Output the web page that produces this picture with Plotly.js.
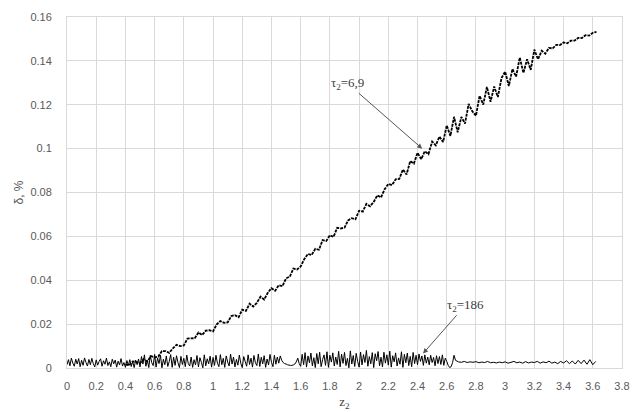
<!DOCTYPE html>
<html>
<head>
<meta charset="utf-8">
<script src="https://cdn.plot.ly/plotly-3.0.1.min.js"></script>
<style>html,body{margin:0;padding:0;background:#fff;}#chart{width:632px;height:412px;}</style>
</head>
<body>
<div id="chart"></div>
<script>
// Curve tau2 = 6,9 (rising curve)
const xMain = [0.400,0.425,0.450,0.475,0.500,0.525,0.550,0.575,0.600,0.625,0.650,0.675,0.700,0.725,0.750,0.775,0.800,0.825,0.850,0.875,0.900,0.925,0.950,0.975,
1.000,1.025,1.050,1.075,1.100,1.125,1.150,1.175,1.200,1.225,1.250,1.275,1.300,1.325,1.350,1.375,1.400,1.425,1.450,1.475,1.500,1.525,1.550,1.575,1.600,1.625,1.650,1.675,1.700,1.725,1.750,1.775,1.800,1.825,1.850,1.875,1.900,1.925,1.950,1.975,
2.000,2.025,2.050,2.075,2.100,2.125,2.150,2.175,2.200,2.225,2.250,2.275,2.300,2.325,2.350,2.375,2.400,2.425,2.450,2.475,2.500,2.525,2.550,2.575,2.600,2.625,2.650,2.675,2.700,2.725,2.750,2.775,2.800,2.825,2.850,2.875,2.900,2.925,2.950,2.975,
3.000,3.025,3.050,3.075,3.100,3.125,3.150,3.175,3.200,3.225,3.250,3.275,3.300,3.325,3.350,3.375,3.400,3.425,3.450,3.475,3.500,3.525,3.550,3.575,3.600,3.625];
const yMain = [0.0016,0.0012,0.0030,0.0027,0.0022,0.0040,0.0030,0.0054,0.0048,0.0052,0.0077,0.0077,0.0069,0.0090,0.0106,0.0100,0.0103,0.0134,0.0135,0.0136,0.0162,0.0150,0.0170,0.0172,
0.0167,0.0199,0.0214,0.0206,0.0208,0.0237,0.0241,0.0231,0.0266,0.0260,0.0293,0.0280,0.0297,0.0325,0.0312,0.0343,0.0364,0.0352,0.0377,0.0373,0.0409,0.0416,0.0453,0.0449,0.0463,0.0497,0.0520,0.0515,0.0543,0.0539,0.0583,0.0579,0.0605,0.0598,0.0639,0.0636,0.0640,0.0673,0.0683,0.0678,
0.0717,0.0713,0.0748,0.0737,0.0757,0.0787,0.0778,0.0815,0.0839,0.0834,0.0860,0.0862,0.0905,0.0882,0.0943,0.0932,0.0981,0.0952,0.0988,0.0975,0.1032,0.1015,0.1055,0.1030,0.1106,0.1058,0.1145,0.1075,0.1144,0.1114,0.1204,0.1170,0.1150,0.1241,0.1201,0.1281,0.1214,0.1283,0.1235,0.1322,
0.1351,0.1285,0.1363,0.1328,0.1415,0.1345,0.1407,0.1359,0.1451,0.1407,0.1446,0.1433,0.1459,0.1457,0.1473,0.1472,0.1484,0.1480,0.1492,0.1492,0.1505,0.1504,0.1517,0.1515,0.1528,0.1532];

// Curve tau2 = 186 (near zero)
const xLow = [
0.00,0.01,0.02,0.03,0.04,0.05,0.06,0.07,0.08,0.09,
0.10,0.11,0.12,0.13,0.14,0.15,0.16,0.17,0.18,0.19,
0.20,0.21,0.22,0.23,0.24,0.25,0.26,0.27,0.28,0.29,
0.30,0.31,0.32,0.33,0.34,0.35,0.36,0.37,0.38,0.39,
0.40,0.41,0.42,0.43,0.44,0.45,0.46,0.47,0.48,0.49,
0.50,0.51,0.52,0.53,0.54,0.55,0.56,0.57,0.58,0.59,
0.60,0.61,0.62,0.63,0.64,0.65,0.66,0.67,0.68,0.69,
0.70,0.71,0.72,0.73,0.74,0.75,0.76,0.77,0.78,0.79,
0.80,0.81,0.82,0.83,0.84,0.85,0.86,0.87,0.88,0.89,
0.90,0.91,0.92,0.93,0.94,0.95,0.96,0.97,0.98,0.99,
1.00,1.01,1.02,1.03,1.04,1.05,1.06,1.07,1.08,1.09,
1.10,1.11,1.12,1.13,1.14,1.15,1.16,1.17,1.18,1.19,
1.20,1.21,1.22,1.23,1.24,1.25,1.26,1.27,1.28,1.29,
1.30,1.31,1.32,1.33,1.34,1.35,1.36,1.37,1.38,1.39,
1.40,1.41,1.42,1.43,1.44,1.45,1.46,1.47,1.48,1.49,
1.50,1.51,1.52,1.53,1.54,1.55,1.56,1.57,1.58,1.59,
1.60,1.61,1.62,1.63,1.64,1.65,1.66,1.67,1.68,1.69,
1.70,1.71,1.72,1.73,1.74,1.75,1.76,1.77,1.78,1.79,
1.80,1.81,1.82,1.83,1.84,1.85,1.86,1.87,1.88,1.89,
1.90,1.91,1.92,1.93,1.94,1.95,1.96,1.97,1.98,1.99,
2.00,2.01,2.02,2.03,2.04,2.05,2.06,2.07,2.08,2.09,
2.10,2.11,2.12,2.13,2.14,2.15,2.16,2.17,2.18,2.19,
2.20,2.21,2.22,2.23,2.24,2.25,2.26,2.27,2.28,2.29,
2.30,2.31,2.32,2.33,2.34,2.35,2.36,2.37,2.38,2.39,
2.40,2.41,2.42,2.43,2.44,2.45,2.46,2.47,2.48,2.49,
2.50,2.51,2.52,2.53,2.54,2.55,2.56,2.57,2.58,2.59,
2.60,2.61,2.62,2.63,2.64,2.65,2.66,
2.68,2.70,2.72,2.74,2.76,2.78,2.80,2.82,2.84,2.86,2.88,2.90,2.92,2.94,2.96,2.98,
3.00,3.02,3.04,3.06,3.08,3.10,3.12,3.14,3.16,3.18,3.20,3.22,3.24,3.26,3.28,3.30,
3.32,3.34,3.36,3.38,3.40,3.42,3.44,3.46,3.48,3.50,3.52,3.54,3.56,3.58,3.60,3.62];
const yLow = [
0.0015,0.0038,0.0010,0.0045,0.0022,0.0008,0.0040,0.0018,0.0043,0.0006,
0.0035,0.0012,0.0046,0.0025,0.0009,0.0039,0.0015,0.0044,0.0020,0.0005,
0.0037,0.0013,0.0030,0.0042,0.0008,0.0033,0.0017,0.0045,0.0011,0.0028,
0.0006,0.0040,0.0019,0.0036,0.0004,0.0031,0.0014,0.0043,0.0009,0.0025,
0.0003,0.0034,0.0012,0.0038,0.0007,0.0029,0.0002,0.0036,0.0015,0.0041,
0.0005,0.0052,0.0018,0.0060,0.0008,0.0035,0.0002,0.0057,0.0025,0.0011,
0.0062,0.0004,0.0046,0.0020,0.0058,0.0001,0.0040,0.0015,0.0055,0.0007,
0.0030,0.0061,0.0003,0.0049,0.0012,0.0056,0.0024,0.0002,0.0053,0.0016,
0.0044,0.0006,0.0059,0.0021,0.0009,0.0050,0.0003,0.0038,0.0014,0.0057,
0.0005,0.0047,0.0026,0.0001,0.0060,0.0010,0.0042,0.0019,0.0054,0.0004,
0.0048,0.0012,0.0058,0.0022,0.0006,0.0061,0.0015,0.0044,0.0003,0.0055,
0.0027,0.0009,0.0063,0.0018,0.0050,0.0005,0.0039,0.0013,0.0059,0.0021,
0.0002,0.0052,0.0030,0.0008,0.0060,0.0016,0.0045,0.0004,0.0057,0.0024,
0.0011,0.0064,0.0007,0.0049,0.0019,0.0056,0.0003,0.0041,0.0014,0.0062,
0.0026,0.0006,0.0058,0.0017,0.0050,0.0022,0.0055,0.0035,0.0025,0.0020,
0.0018,0.0015,0.0013,0.0012,0.0012,0.0014,0.0018,0.0028,0.0045,0.0020,
0.0008,0.0062,0.0015,0.0070,0.0004,0.0055,0.0024,0.0068,0.0010,0.0047,
0.0002,0.0066,0.0019,0.0072,0.0006,0.0038,0.0060,0.0012,0.0074,0.0003,
0.0058,0.0027,0.0069,0.0009,0.0050,0.0016,0.0076,0.0005,0.0063,0.0021,
0.0071,0.0011,0.0044,0.0001,0.0078,0.0018,0.0057,0.0007,0.0067,0.0030,
0.0004,0.0073,0.0014,0.0061,0.0025,0.0080,0.0008,0.0052,0.0019,0.0070,
0.0002,0.0065,0.0033,0.0075,0.0010,0.0049,0.0005,0.0072,0.0022,0.0060,
0.0013,0.0077,0.0004,0.0056,0.0028,0.0069,0.0009,0.0046,0.0017,0.0074,
0.0003,0.0062,0.0024,0.0068,0.0011,0.0053,0.0006,0.0071,0.0020,0.0058,
0.0015,0.0064,0.0030,0.0055,0.0012,0.0060,0.0022,0.0050,0.0014,0.0058,
0.0025,0.0048,0.0010,0.0056,0.0020,0.0052,0.0016,0.0060,0.0012,0.0045,
0.0030,0.0012,0.0002,0.0006,0.0025,0.0058,0.0035,
0.0028,0.0026,0.0030,0.0025,0.0028,0.0026,0.0029,0.0024,0.0027,0.0025,0.0030,0.0024,0.0026,0.0023,0.0027,0.0024,
0.0028,0.0022,0.0026,0.0030,0.0024,0.0027,0.0022,0.0029,0.0023,0.0027,0.0025,0.0030,0.0022,0.0028,0.0024,0.0031,
0.0022,0.0027,0.0020,0.0030,0.0023,0.0033,0.0020,0.0032,0.0018,0.0035,0.0020,0.0036,0.0017,0.0038,0.0015,0.0030];

const xTickVals = [0,0.2,0.4,0.6,0.8,1,1.2,1.4,1.6,1.8,2,2.2,2.4,2.6,2.8,3,3.2,3.4,3.6,3.8];
const yTickVals = [0,0.02,0.04,0.06,0.08,0.1,0.12,0.14,0.16];
const labelMain = 'τ<sub>2</sub>=6,9';
const labelLow = 'τ<sub>2</sub>=186';

const traces = [
  {x: xLow, y: yLow, type: 'scatter', mode: 'lines', line: {color: '#000', width: 1, simplify: false}, hoverinfo: 'skip'},
  {x: xMain, y: yMain, type: 'scatter', mode: 'lines', line: {color: '#000', width: 1.8, dash: '3px,1px', simplify: false}, hoverinfo: 'skip'}
];

const gridColor = '#d9d9d9';
const tickFont = {family: 'Liberation Sans, Arial, sans-serif', size: 11, color: '#595959'};
const layout = {
  width: 632, height: 412,
  margin: {l: 67, r: 10, t: 17, b: 44},
  paper_bgcolor: '#fff', plot_bgcolor: '#fff',
  showlegend: false,
  xaxis: {
    range: [0, 3.8], tickvals: xTickVals, ticktext: xTickVals.map(String),
    showgrid: true, gridcolor: gridColor, gridwidth: 1,
    showline: true, linecolor: gridColor, mirror: true, zeroline: false,
    ticks: '', ticklabelstandoff: 8, tickfont: tickFont,
    title: {text: 'z<sub>2</sub>', font: {family: 'Liberation Serif, serif', size: 13, color: '#404040'}, standoff: 5}
  },
  yaxis: {
    range: [0, 0.16], tickvals: yTickVals, ticktext: yTickVals.map(String),
    showgrid: true, gridcolor: gridColor, gridwidth: 1,
    showline: true, linecolor: gridColor, mirror: true, zeroline: false,
    ticks: '', ticklabelstandoff: 12, tickfont: tickFont,
    title: {text: 'δ, %', font: {family: 'Liberation Sans, Arial, sans-serif', size: 12, color: '#595959'}, standoff: 4}
  },
  annotations: [
    {x: 2.432, y: 0.1000, ax: 1.920, ay: 0.1298, xref: 'x', yref: 'y', axref: 'x', ayref: 'y',
     text: labelMain, showarrow: true, arrowhead: 2, arrowsize: 1, arrowwidth: 1, arrowcolor: '#555',
     font: {family: 'Liberation Serif, serif', size: 13, color: '#404040'}},
    {x: 2.438, y: 0.0066, ax: 2.728, ay: 0.0286, xref: 'x', yref: 'y', axref: 'x', ayref: 'y',
     text: labelLow, showarrow: true, arrowhead: 2, arrowsize: 1, arrowwidth: 1, arrowcolor: '#555',
     font: {family: 'Liberation Serif, serif', size: 13, color: '#404040'}}
  ]
};

Plotly.newPlot('chart', traces, layout, {staticPlot: true, displayModeBar: false});
</script>
</body>
</html>
